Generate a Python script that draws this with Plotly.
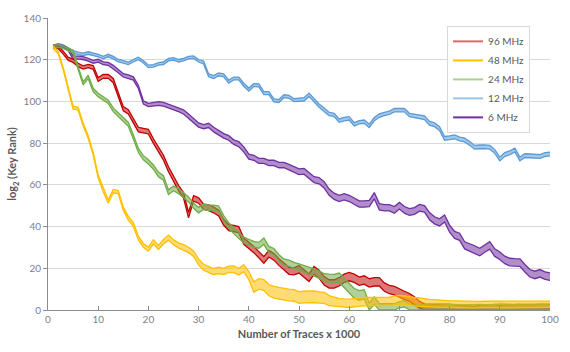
import plotly.graph_objects as go

traces_k = list(range(1, 101))

mid_96 = [126.3, 126.0, 123.5, 120.5, 119.5, 117.5, 116.3, 117.0, 116.3, 110.5,
          112.0, 112.0, 110.0, 103.0, 96.5, 95.0, 90.5, 86.5, 86.0, 85.5,
          81.0, 77.0, 73.0, 67.5, 63.0, 58.5, 55.0, 45.5, 53.5, 52.5,
          49.5, 49.0, 48.0, 46.5, 42.0, 39.5, 39.1, 38.5, 33.0, 31.0,
          29.0, 26.5, 24.0, 27.0, 25.5, 23.0, 21.0, 18.8, 18.5, 19.5,
          17.5, 15.5, 19.0, 17.2, 14.0, 12.5, 12.5, 13.5, 15.2, 16.0,
          15.2, 13.8, 14.4, 13.0, 13.5, 13.5, 11.0, 9.8, 9.3, 8.0,
          7.0, 6.0, 4.5, 2.5, 1.5, 1.5, 1.5, 1.2, 1.3, 1.5,
          1.2, 1.0, 1.0, 0.8, 0.5, 1.0, 1.2, 1.5, 1.5, 1.0,
          1.2, 1.4, 1.5, 1.5, 1.3, 1.2, 1.4, 1.5, 1.5, 1.5]
half_96 = [0.6, 0.6, 0.7, 0.7, 0.8, 0.8, 0.8, 0.8, 0.9, 0.9,
           0.9, 0.9, 1.0, 1.0, 1.0, 1.0, 1.1, 1.1, 1.1, 1.1,
           1.1, 1.2, 1.2, 1.2, 1.2, 1.3, 1.3, 1.3, 1.3, 1.3,
           1.3, 1.4, 1.4, 1.4, 1.4, 1.4, 1.5, 1.5, 1.5, 1.5,
           1.5, 1.5, 1.6, 1.6, 1.6, 1.6, 1.7, 1.7, 1.7, 1.8,
           1.8, 1.8, 1.9, 1.9, 2.0, 2.0, 2.0, 2.0, 2.0, 2.0,
           2.0, 2.0, 2.0, 2.0, 2.0, 2.0, 2.0, 2.0, 2.0, 2.0,
           2.0, 1.9, 1.8, 1.6, 1.4, 1.3, 1.3, 1.3, 1.3, 1.3,
           1.2, 1.2, 1.2, 1.2, 1.2, 1.2, 1.2, 1.2, 1.2, 1.2,
           1.2, 1.2, 1.2, 1.2, 1.2, 1.2, 1.2, 1.2, 1.2, 1.2]

mid_48 = [126.0, 123.5, 116.0, 106.5, 97.0, 96.5, 89.0, 83.0, 75.0, 64.0,
          57.5, 52.0, 57.0, 56.5, 48.5, 44.0, 41.0, 34.5, 31.0, 29.2,
          32.7, 30.0, 32.7, 34.7, 32.5, 31.0, 30.0, 28.8, 27.0, 23.0,
          20.5, 19.5, 18.4, 19.0, 18.5, 19.5, 19.5, 18.4, 20.0, 16.5,
          11.0, 12.5, 12.0, 9.5, 8.5, 8.0, 7.5, 7.2, 7.0, 6.0,
          6.2, 6.3, 6.4, 6.0, 5.8, 4.5, 4.0, 3.5, 3.3, 3.2,
          3.5, 3.8, 4.0, 4.0, 4.0, 4.0, 4.0, 4.2, 4.6, 5.0,
          4.8, 4.3, 4.0, 3.8, 3.5, 3.3, 3.2, 3.0, 3.0, 2.8,
          2.8, 2.7, 2.6, 2.6, 2.5, 2.6, 2.7, 2.7, 2.6, 2.5,
          2.5, 2.6, 2.7, 2.8, 2.7, 2.6, 2.6, 2.7, 2.8, 2.8]
half_48 = [0.6, 0.6, 0.6, 0.6, 0.7, 0.7, 0.7, 0.7, 0.7, 0.7,
           0.8, 0.8, 0.8, 0.8, 0.8, 0.9, 0.9, 0.9, 0.9, 1.0,
           1.0, 1.0, 1.1, 1.2, 1.2, 1.2, 1.3, 1.3, 1.3, 1.4,
           1.4, 1.4, 1.5, 1.5, 1.5, 1.5, 1.6, 1.6, 1.6, 2.0,
           2.5, 2.5, 2.6, 2.7, 2.8, 2.8, 2.8, 2.8, 2.8, 2.8,
           2.8, 2.8, 2.8, 2.7, 2.6, 2.4, 2.2, 2.0, 2.0, 2.0,
           2.0, 2.0, 2.0, 2.0, 2.0, 2.0, 2.0, 2.0, 2.0, 2.0,
           2.0, 2.0, 2.0, 2.0, 1.9, 1.8, 1.8, 1.7, 1.7, 1.6,
           1.6, 1.6, 1.5, 1.5, 1.5, 1.5, 1.5, 1.5, 1.5, 1.5,
           1.5, 1.5, 1.5, 1.5, 1.5, 1.5, 1.5, 1.5, 1.5, 1.5]

mid_24 = [126.2, 126.5, 126.0, 125.0, 123.8, 116.0, 108.7, 111.8, 105.5, 103.1,
          101.5, 99.8, 96.0, 93.5, 91.5, 89.0, 83.0, 76.5, 73.0, 71.0,
          68.5, 65.0, 63.3, 56.5, 58.3, 57.0, 55.0, 53.0, 50.0, 47.9,
          49.5, 49.0, 49.0, 48.5, 44.0, 40.5, 38.0, 35.5, 33.5, 32.5,
          31.5, 31.0, 33.0, 29.0, 28.0, 25.0, 23.0, 22.4, 21.3, 20.5,
          19.8, 19.0, 18.0, 17.0, 15.5, 15.2, 15.0, 15.5, 13.0, 10.5,
          8.0, 7.0, 7.5, 1.5, 4.5, 1.5, 1.5, 1.5, 1.5, 2.5,
          3.0, 1.5, 1.0, 1.2, 1.3, 1.2, 1.0, 1.1, 1.3, 1.5,
          1.4, 1.2, 1.3, 1.5, 1.6, 1.4, 1.3, 1.2, 1.4, 1.6,
          1.5, 1.3, 1.4, 1.5, 1.4, 1.3, 1.5, 1.6, 1.5, 1.5]
half_24 = [0.6, 0.6, 0.6, 0.7, 0.7, 0.7, 0.7, 0.8, 0.8, 0.8,
           0.8, 0.8, 0.9, 0.9, 0.9, 0.9, 1.0, 1.0, 1.0, 1.0,
           1.0, 1.1, 1.1, 1.1, 1.1, 1.2, 1.2, 1.2, 1.2, 1.3,
           1.3, 1.3, 1.3, 1.3, 1.3, 1.3, 1.4, 1.4, 1.4, 1.4,
           1.4, 1.4, 1.5, 1.5, 1.5, 1.5, 1.5, 1.5, 1.5, 1.6,
           1.6, 1.6, 1.7, 1.8, 1.9, 2.0, 2.1, 2.2, 2.3, 2.3,
           2.3, 2.3, 2.2, 1.8, 1.8, 1.5, 1.5, 1.5, 1.5, 1.5,
           1.5, 1.4, 1.3, 1.3, 1.3, 1.3, 1.3, 1.3, 1.3, 1.3,
           1.3, 1.3, 1.3, 1.3, 1.3, 1.3, 1.3, 1.3, 1.3, 1.3,
           1.3, 1.3, 1.3, 1.3, 1.3, 1.3, 1.3, 1.3, 1.3, 1.3]

mid_12 = [126.0, 127.2, 126.5, 125.0, 123.8, 123.0, 122.6, 123.2, 122.6, 122.0,
          121.0, 122.0, 121.0, 119.5, 119.0, 118.3, 119.5, 120.6, 119.0, 116.8,
          117.0, 118.0, 118.3, 120.0, 120.4, 119.5, 120.0, 121.0, 121.2, 119.5,
          118.7, 112.5, 111.7, 113.0, 112.5, 109.5, 111.0, 111.0, 108.0, 105.7,
          107.8, 107.7, 104.0, 104.0, 100.5, 100.2, 102.5, 102.2, 100.6, 100.8,
          101.0, 103.2, 100.6, 98.0, 96.0, 94.0, 93.5, 90.8, 91.5, 91.9,
          89.0, 90.0, 90.3, 88.3, 91.5, 93.2, 94.0, 94.6, 95.8, 95.8,
          95.8, 93.5, 93.0, 92.6, 92.2, 89.5, 88.8, 87.0, 82.3, 82.6,
          83.0, 82.0, 81.5, 79.9, 78.0, 78.2, 78.3, 78.0, 76.0, 72.4,
          74.6, 75.4, 76.7, 72.4, 74.0, 73.9, 73.8, 73.6, 74.5, 74.8]
half_12 = [0.6, 0.6, 0.6, 0.6, 0.6, 0.6, 0.6, 0.6, 0.6, 0.6,
           0.6, 0.6, 0.6, 0.6, 0.6, 0.6, 0.6, 0.6, 0.6, 0.6,
           0.6, 0.6, 0.6, 0.6, 0.6, 0.6, 0.6, 0.6, 0.6, 0.6,
           0.7, 0.7, 0.7, 0.7, 0.7, 0.7, 0.7, 0.7, 0.7, 0.7,
           0.7, 0.7, 0.7, 0.7, 0.7, 0.7, 0.7, 0.7, 0.7, 0.7,
           0.8, 0.8, 0.8, 0.8, 0.8, 0.8, 0.8, 0.8, 0.8, 0.8,
           0.8, 0.8, 0.8, 0.8, 0.8, 0.8, 0.8, 0.8, 0.8, 0.8,
           0.8, 0.8, 0.8, 0.8, 0.9, 0.9, 0.9, 0.9, 0.9, 0.9,
           0.9, 0.9, 0.9, 0.9, 0.9, 0.9, 0.9, 0.9, 0.9, 0.9,
           0.9, 0.9, 0.9, 0.9, 0.9, 0.9, 0.9, 0.9, 0.9, 0.9]

mid_6 = [126.5, 126.5, 126.3, 125.0, 121.0, 121.0, 120.8, 120.0, 119.0, 119.5,
         118.3, 118.0, 116.5, 114.5, 112.5, 111.9, 111.0, 107.0, 99.5, 98.3,
         98.6, 99.0, 98.6, 97.8, 96.8, 96.0, 95.0, 93.0, 91.0, 88.7,
         87.9, 88.5, 86.5, 85.0, 83.5, 82.5, 80.5, 79.5, 77.0, 73.5,
         73.0, 71.5, 71.5, 70.5, 70.5, 69.5, 69.5, 68.5, 67.5, 66.3,
         66.5, 64.5, 62.5, 62.0, 60.0, 56.5, 54.5, 53.5, 54.3, 53.5,
         52.0, 50.8, 50.8, 51.1, 54.8, 49.5, 49.0, 49.0, 48.0, 50.0,
         48.0, 47.0, 47.5, 49.0, 48.5, 45.0, 43.0, 42.0, 43.9, 39.0,
         36.0, 35.1, 31.0, 30.0, 29.0, 27.8, 29.5, 31.0, 27.5, 26.0,
         24.0, 23.0, 22.8, 22.7, 20.0, 17.6, 16.8, 17.6, 16.5, 16.0]
half_6 = [0.6, 0.6, 0.6, 0.6, 0.7, 0.7, 0.7, 0.7, 0.7, 0.7,
          0.7, 0.7, 0.8, 0.8, 0.8, 0.8, 0.8, 0.8, 0.8, 0.8,
          0.9, 0.9, 0.9, 0.9, 0.9, 0.9, 1.0, 1.0, 1.0, 1.0,
          1.0, 1.0, 1.1, 1.1, 1.1, 1.1, 1.1, 1.2, 1.2, 1.2,
          1.2, 1.2, 1.2, 1.3, 1.3, 1.3, 1.3, 1.3, 1.4, 1.4,
          1.4, 1.4, 1.4, 1.5, 1.5, 1.5, 1.5, 1.5, 1.5, 1.5,
          1.5, 1.5, 1.5, 1.5, 1.5, 1.5, 1.5, 1.5, 1.6, 1.6,
          1.6, 1.6, 1.6, 1.6, 1.6, 1.7, 1.7, 1.7, 1.7, 1.7,
          1.7, 1.7, 1.7, 1.8, 1.8, 1.8, 1.8, 1.8, 1.8, 1.8,
          1.8, 1.8, 1.8, 1.8, 1.8, 1.8, 1.8, 1.8, 1.8, 1.8]

series = [
    ("12 MHz", mid_12, half_12, "#5B9BD5", "rgba(91,155,213,0.55)", "#9DC3E6"),
    ("6 MHz", mid_6, half_6, "#7030A0", "rgba(112,48,160,0.55)", "#7030A0"),
    ("96 MHz", mid_96, half_96, "#C00000", "rgba(200,30,30,0.6)", "#E06666"),
    ("24 MHz", mid_24, half_24, "#70AD47", "rgba(112,173,71,0.55)", "#A9D18E"),
    ("48 MHz", mid_48, half_48, "#FFC000", "rgba(255,192,0,0.55)", "#FFC000"),
]

fig = go.Figure()
for name, mid, half, edge, fill, _ in series:
    lower = [max(m - h, 0) for m, h in zip(mid, half)]
    upper = [m + h for m, h in zip(mid, half)]
    fig.add_trace(go.Scatter(x=traces_k, y=lower, mode="lines",
                             line=dict(color=edge, width=1.3),
                             showlegend=False, hoverinfo="skip"))
    fig.add_trace(go.Scatter(x=traces_k, y=upper, mode="lines", fill="tonexty",
                             fillcolor=fill, line=dict(color=edge, width=1.3),
                             showlegend=False, name=name))

legend_order = ["96 MHz", "48 MHz", "24 MHz", "12 MHz", "6 MHz"]
legend_colors = {s[0]: s[5] for s in series}
for name in legend_order:
    fig.add_trace(go.Scatter(x=[None], y=[None], mode="lines", name=name,
                             line=dict(color=legend_colors[name], width=2)))

axis_col = "#8C8C8C"
tick_font = dict(family="Lato, Liberation Sans, sans-serif", size=10, color="#7F7F7F")
title_font = dict(family="Lato, Liberation Sans, sans-serif", size=11, color="#595959")

fig.update_layout(
    width=570, height=352,
    margin=dict(l=48, r=20, t=18, b=42),
    paper_bgcolor="white", plot_bgcolor="white",
    font=dict(family="Lato, Liberation Sans, sans-serif"),
    legend=dict(x=0.795, y=0.973, xanchor="left", yanchor="top",
                traceorder="normal", entrywidth=90, entrywidthmode="pixels",
                bgcolor="white", bordercolor="#D9D9D9", borderwidth=1,
                font=dict(size=10, color="#595959"),
                tracegroupgap=0),
    xaxis=dict(range=[0, 100], dtick=10, tick0=0, showgrid=False,
               showline=True, linecolor=axis_col, linewidth=1,
               ticks="inside", ticklen=4, tickcolor=axis_col,
               tickfont=tick_font, zeroline=False,
               title=dict(text="<b>Number of Traces x 1000</b>", font=title_font, standoff=6)),
    yaxis=dict(range=[0, 140], dtick=20, tick0=0, showgrid=True,
               gridcolor="#D9D9D9", gridwidth=1,
               showline=True, linecolor=axis_col, linewidth=1,
               ticks="outside", ticklen=4, tickcolor=axis_col,
               tickfont=tick_font, zeroline=False,
               title=dict(text="<b>log<sub>2</sub> (Key Rank)</b>", font=title_font, standoff=4)),
)

fig.write_html("out.html")
